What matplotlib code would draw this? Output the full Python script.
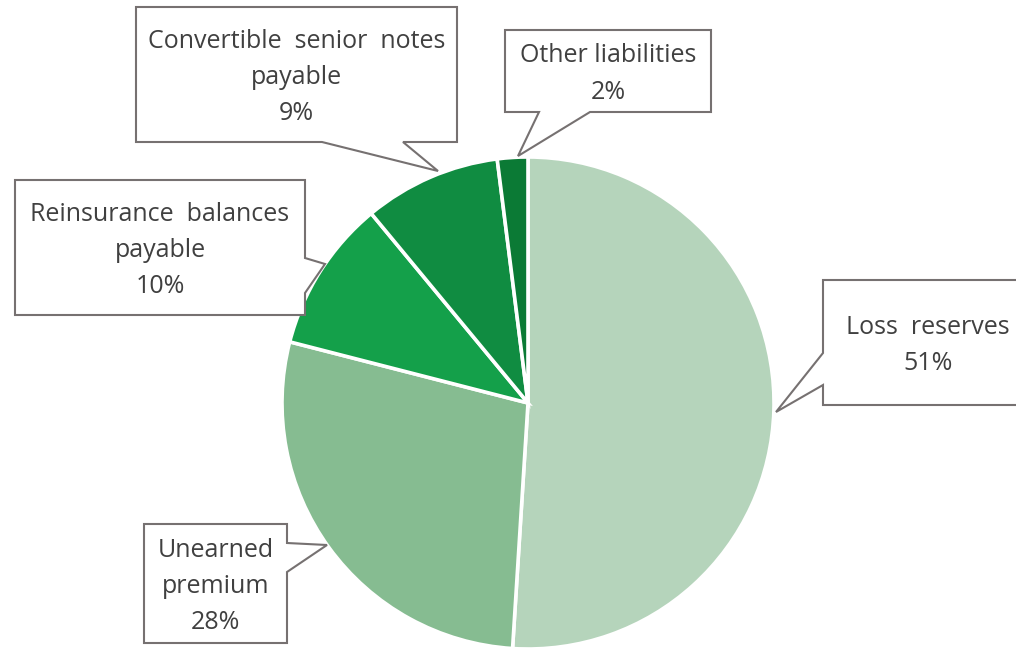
import matplotlib.pyplot as plt
from matplotlib.patches import Polygon

labels = ['Loss  reserves', 'Unearned\npremium', 'Reinsurance  balances\npayable',
          'Convertible  senior  notes\npayable', 'Other liabilities']
values = [51, 28, 10, 9, 2]
colors = ['#B5D4BB', '#86BC91', '#14A04A', '#108C41', '#0B7A35']

W, H = 1016, 649

# callout boxes in pixel coords: (left, top, right, bottom), pointer side, pointer base, tip
callouts = [
    ((823, 280, 1040, 405), 'left', (353, 385), (776, 412)),
    ((144, 524, 287, 643), 'right', (543, 572), (327, 545)),
    ((15, 180, 305, 315), 'right', (258, 293), (325, 264)),
    ((136, 7, 457, 142), 'bottom', (322, 403), (438, 171)),
    ((505, 30, 711, 112), 'bottom', (539, 590), (518, 156)),
]


def callout_shape(box, side, base, tip):
    l, t, r, b = box
    a1, a2 = base
    if side == 'bottom':
        pts = [(l, t), (r, t), (r, b), (a2, b), tip, (a1, b), (l, b)]
    elif side == 'right':
        pts = [(l, t), (r, t), (r, a1), tip, (r, a2), (r, b), (l, b)]
    else:
        pts = [(l, t), (r, t), (r, b), (l, b), (l, a2), tip, (l, a1)]
    return [(x, H - y) for x, y in pts]


def main():
    fig = plt.figure(figsize=(W / 100, H / 100), dpi=100)
    ax = fig.add_axes([0, 0, 1, 1])

    ax.pie(values, colors=colors, startangle=90, counterclock=False,
           center=(528, H - 403), radius=246, frame=True,
           wedgeprops=dict(edgecolor='white', linewidth=2.6))
    ax.set_xlim(0, W)
    ax.set_ylim(0, H)
    ax.set_aspect('equal')
    ax.axis('off')

    for (box, side, base, tip), lab, v in zip(callouts, labels, values):
        poly = Polygon(callout_shape(box, side, base, tip), closed=True,
                       facecolor='white', edgecolor='#767171', linewidth=1.5, zorder=5)
        ax.add_patch(poly)
        l, t, r, b = box
        if r > W:
            r = 1033
        cx = (l + r) / 2
        cy = (t + b) / 2 + 3
        ax.text(cx, H - cy, f'{lab}\n{v}%', ha='center', va='center',
                fontsize=18, family='Open Sans', color='#404040',
                linespacing=1.6, zorder=6)

    fig.savefig('out.png', dpi=100)


if __name__ == '__main__':
    main()
